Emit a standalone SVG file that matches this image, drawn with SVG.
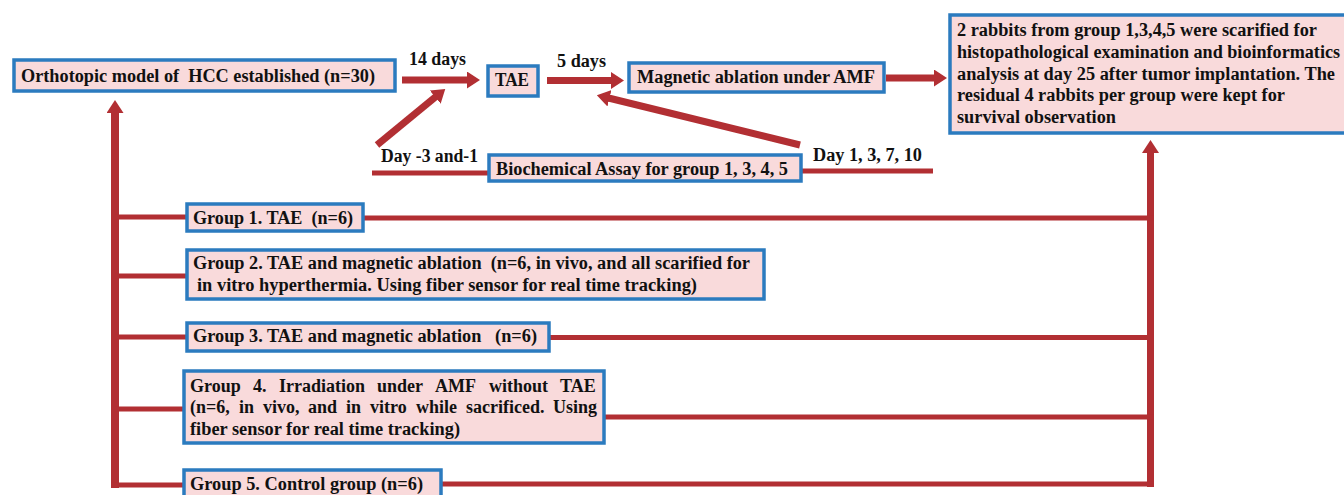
<svg xmlns="http://www.w3.org/2000/svg" width="1344" height="495" viewBox="0 0 1344 495">
  <style>
    .box { fill: #f9dadb; stroke: #2b7bbf; stroke-width: 3.5; }
    .t { font-family: 'Liberation Serif', 'DejaVu Serif', serif; font-weight: 700; font-size: 18px; fill: #111; }
    .ln { stroke: #b22f33; stroke-width: 5; fill: none; }
    .ar { stroke: #b22f33; stroke-width: 7; fill: none; }
  </style>
  <defs>
    <marker id="ah" markerUnits="userSpaceOnUse" markerWidth="13" markerHeight="17" viewBox="0 0 13 17" refX="1" refY="8.5" orient="auto">
      <path d="M0,0 L13,8.5 L0,17 z" fill="#b22f33"/>
    </marker>
  </defs>
  <rect width="1344" height="495" fill="#ffffff"/>

  <g id="connectors">
    <line class="ar" x1="402" y1="80" x2="468" y2="80" marker-end="url(#ah)"/>
    <line class="ar" x1="547" y1="80.5" x2="612" y2="80.5" marker-end="url(#ah)"/>
    <line class="ar" x1="886" y1="78" x2="935" y2="78" marker-end="url(#ah)"/>
    <line class="ar" x1="377" y1="145" x2="436" y2="96.5" marker-end="url(#ah)"/>
    <line class="ar" x1="800" y1="145" x2="608.5" y2="98" marker-end="url(#ah)"/>
    <line class="ln" x1="372" y1="173" x2="489" y2="173"/>
    <line class="ln" x1="801" y1="171" x2="933" y2="171"/>
    <line class="ar" style="stroke-width:8" x1="115" y1="488" x2="115" y2="112" marker-end="url(#ah)"/>
    <line class="ln" x1="115" y1="217" x2="187" y2="217"/>
    <line class="ln" x1="115" y1="276" x2="187" y2="276"/>
    <line class="ln" x1="115" y1="337" x2="187" y2="337"/>
    <line class="ln" x1="115" y1="409" x2="184" y2="409"/>
    <line class="ln" x1="111" y1="485" x2="184" y2="485"/>
    <line class="ar" x1="1150.5" y1="487" x2="1150.5" y2="152" marker-end="url(#ah)"/>
    <line class="ln" x1="363" y1="218" x2="1154" y2="218"/>
    <line class="ln" x1="549" y1="337.5" x2="1154" y2="337.5"/>
    <line class="ln" x1="604" y1="417" x2="1154" y2="417"/>
    <line class="ln" x1="441" y1="484" x2="1154" y2="484"/>
    <text class="t" x="409" y="65" textLength="57" lengthAdjust="spacingAndGlyphs">14 days</text>
    <text class="t" x="557" y="67" textLength="49" lengthAdjust="spacingAndGlyphs">5 days</text>
    <text class="t" x="381" y="162" textLength="97" lengthAdjust="spacingAndGlyphs">Day -3 and-1</text>
    <text class="t" x="813" y="161" textLength="109" lengthAdjust="spacingAndGlyphs">Day 1, 3, 7, 10</text>
  </g>

  <g id="node-hcc">
    <rect class="box" x="14" y="60" width="381" height="31"/>
    <text class="t" x="21" y="82" xml:space="preserve" textLength="354" lengthAdjust="spacingAndGlyphs">Orthotopic model of  HCC established (n=30)</text>
  </g>
  <g id="node-tae">
    <rect class="box" x="488" y="66" width="50" height="30"/>
    <text class="t" x="495" y="86" textLength="34" lengthAdjust="spacingAndGlyphs">TAE</text>
  </g>
  <g id="node-magnetic">
    <rect class="box" x="629" y="63" width="255" height="29"/>
    <text class="t" x="637" y="83" textLength="238" lengthAdjust="spacingAndGlyphs">Magnetic ablation under AMF</text>
  </g>
  <g id="node-outcome">
    <rect class="box" x="950" y="15" width="400" height="118"/>
    <text class="t" x="957" y="36" textLength="360" lengthAdjust="spacingAndGlyphs">2 rabbits from group 1,3,4,5 were scarified for</text>
    <text class="t" x="957" y="58" textLength="383" lengthAdjust="spacingAndGlyphs">histopathological examination and bioinformatics</text>
    <text class="t" x="957" y="80" textLength="378" lengthAdjust="spacingAndGlyphs">analysis at day 25 after tumor implantation. The</text>
    <text class="t" x="957" y="101" textLength="328" lengthAdjust="spacingAndGlyphs">residual 4 rabbits per group were kept for</text>
    <text class="t" x="957" y="123" textLength="159" lengthAdjust="spacingAndGlyphs">survival observation</text>
  </g>
  <g id="node-biochem">
    <rect class="box" x="489" y="155" width="312" height="26"/>
    <text class="t" x="496" y="175" textLength="292" lengthAdjust="spacingAndGlyphs">Biochemical Assay for group 1, 3, 4, 5</text>
  </g>
  <g id="node-group1">
    <rect class="box" x="187" y="204" width="176" height="27"/>
    <text class="t" x="193" y="224" xml:space="preserve" textLength="160" lengthAdjust="spacingAndGlyphs">Group 1. TAE  (n=6)</text>
  </g>
  <g id="node-group2">
    <rect class="box" x="187" y="250" width="577" height="49"/>
    <text class="t" x="193" y="269" xml:space="preserve" textLength="557" lengthAdjust="spacingAndGlyphs">Group 2. TAE and magnetic ablation  (n=6, in vivo, and all scarified for</text>
    <text class="t" x="197" y="291" textLength="500" lengthAdjust="spacingAndGlyphs">in vitro hyperthermia. Using fiber sensor for real time tracking)</text>
  </g>
  <g id="node-group3">
    <rect class="box" x="187" y="323" width="362" height="28"/>
    <text class="t" x="193" y="342" xml:space="preserve" textLength="344" lengthAdjust="spacingAndGlyphs">Group 3. TAE and magnetic ablation   (n=6)</text>
  </g>
  <g id="node-group4">
    <rect class="box" x="184" y="371" width="420" height="72"/>
    <text class="t" y="392"><tspan x="190">Group</tspan><tspan x="253">4.</tspan><tspan x="279">Irradiation</tspan><tspan x="377">under</tspan><tspan x="435">AMF</tspan><tspan x="489">without</tspan><tspan x="560">TAE</tspan></text>
    <text class="t" y="413"><tspan x="190">(n=6,</tspan><tspan x="239">in</tspan><tspan x="263">vivo,</tspan><tspan x="308">and</tspan><tspan x="346">in</tspan><tspan x="370">vitro</tspan><tspan x="416">while</tspan><tspan x="466">sacrificed.</tspan><tspan x="553">Using</tspan></text>
    <text class="t" x="190" y="435" textLength="270" lengthAdjust="spacingAndGlyphs">fiber sensor for real time tracking)</text>
  </g>
  <g id="node-group5">
    <rect class="box" x="184" y="470" width="257" height="40"/>
    <text class="t" x="190" y="490" textLength="233" lengthAdjust="spacingAndGlyphs">Group 5. Control group (n=6)</text>
  </g>
</svg>
